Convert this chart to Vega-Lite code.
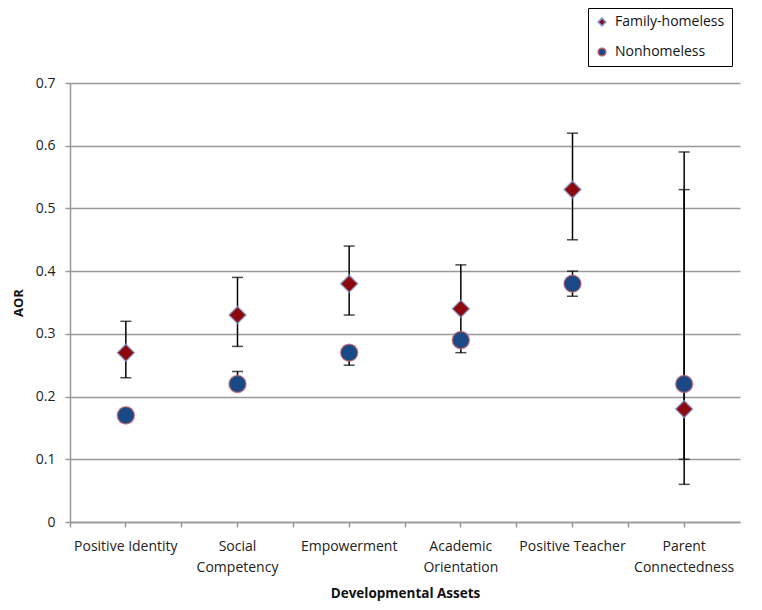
{
  "$schema": "https://vega.github.io/schema/vega-lite/v6.json",
  "width": 670,
  "height": 439,
  "autosize": {"type": "none"},
  "padding": {"left": 70, "top": 83, "right": 22, "bottom": 88},
  "background": "white",
  "config": {
    "font": "Open Sans",
    "view": {"stroke": null},
    "axis": {"labelFont": "Open Sans", "titleFont": "Open Sans", "labelColor": "#222", "titleColor": "#111"}
  },
  "data": {
    "values": [
      {"asset": "Positive Identity", "group": "Family-homeless", "aor": 0.27, "lo": 0.23, "hi": 0.32},
      {"asset": "Positive Identity", "group": "Nonhomeless", "aor": 0.17, "lo": 0.16, "hi": 0.18},
      {"asset": "Social Competency", "group": "Family-homeless", "aor": 0.33, "lo": 0.28, "hi": 0.39},
      {"asset": "Social Competency", "group": "Nonhomeless", "aor": 0.22, "lo": 0.21, "hi": 0.24},
      {"asset": "Empowerment", "group": "Family-homeless", "aor": 0.38, "lo": 0.33, "hi": 0.44},
      {"asset": "Empowerment", "group": "Nonhomeless", "aor": 0.27, "lo": 0.25, "hi": 0.28},
      {"asset": "Academic Orientation", "group": "Family-homeless", "aor": 0.34, "lo": 0.29, "hi": 0.41},
      {"asset": "Academic Orientation", "group": "Nonhomeless", "aor": 0.29, "lo": 0.27, "hi": 0.3},
      {"asset": "Positive Teacher", "group": "Family-homeless", "aor": 0.53, "lo": 0.45, "hi": 0.62},
      {"asset": "Positive Teacher", "group": "Nonhomeless", "aor": 0.38, "lo": 0.36, "hi": 0.4},
      {"asset": "Parent Connectedness", "group": "Family-homeless", "aor": 0.18, "lo": 0.06, "hi": 0.59},
      {"asset": "Parent Connectedness", "group": "Nonhomeless", "aor": 0.22, "lo": 0.1, "hi": 0.53}
    ]
  },
  "resolve": {"axis": {"x": "independent"}},
  "layer": [
    {
      "mark": {"type": "rule", "color": "black", "strokeWidth": 1.5},
      "encoding": {
        "x": {
          "field": "asset",
          "type": "nominal",
          "sort": null,
          "scale": {"paddingInner": 0, "paddingOuter": 0},
          "axis": {
            "orient": "bottom",
            "title": "Developmental Assets",
            "titleFontSize": 13.5,
            "titleFontWeight": "bold",
            "titlePadding": 12,
            "labelAngle": 0,
            "labelFontSize": 14,
            "labelPadding": 12,
            "labelLineHeight": 21,
            "labelExpr": "indexof(['Social Competency','Academic Orientation','Parent Connectedness'], datum.value) >= 0 ? split(datum.value, ' ') : datum.value",
            "domainColor": "#999",
            "domainWidth": 1.5,
            "tickColor": "#999",
            "tickWidth": 1.5,
            "tickSize": 5,
            "grid": false
          }
        },
        "y": {
          "field": "lo",
          "type": "quantitative",
          "scale": {"domain": [0, 0.7], "nice": false},
          "axis": {
            "title": "AOR",
            "titleFontSize": 13,
            "titleFontWeight": "bold",
            "titlePadding": 10,
            "values": [0, 0.1, 0.2, 0.3, 0.4, 0.5, 0.6, 0.7],
            "format": "~g",
            "labelFontSize": 14,
            "labelPadding": 10,
            "tickSize": 5,
            "tickColor": "#999",
            "tickWidth": 1.5,
            "domainColor": "#999",
            "domainWidth": 1.5,
            "grid": true,
            "gridColor": "#999",
            "gridWidth": 1.5
          }
        },
        "y2": {"field": "hi"}
      }
    },
    {
      "mark": {"type": "tick", "color": "black", "thickness": 1.5, "size": 11, "orient": "horizontal"},
      "encoding": {
        "x": {
          "field": "asset",
          "type": "nominal",
          "sort": null,
          "axis": {
            "orient": "bottom",
            "title": null,
            "labels": false,
            "domain": false,
            "grid": false,
            "bandPosition": 0,
            "tickColor": "#999",
            "tickWidth": 1.5,
            "tickSize": 5
          }
        },
        "y": {"field": "lo", "type": "quantitative"}
      }
    },
    {
      "mark": {"type": "tick", "color": "black", "thickness": 1.5, "size": 11, "orient": "horizontal"},
      "encoding": {
        "x": {"field": "asset", "type": "nominal", "sort": null, "axis": null},
        "y": {"field": "hi", "type": "quantitative"}
      }
    },
    {
      "mark": {"type": "point", "filled": true, "opacity": 1, "strokeWidth": 1.5, "strokeOpacity": 0.7, "size": 290},
      "encoding": {
        "x": {"field": "asset", "type": "nominal", "sort": null, "axis": null},
        "y": {"field": "aor", "type": "quantitative"},
        "shape": {
          "field": "group",
          "type": "nominal",
          "scale": {"domain": ["Family-homeless", "Nonhomeless"], "range": ["diamond", "circle"]},
          "legend": {
            "title": null,
            "orient": "none",
            "legendX": 518,
            "legendY": -75,
            "labelFontSize": 14,
            "labelColor": "#111",
            "labelOffset": 6,
            "symbolSize": 60,
            "rowPadding": 16,
            "padding": 7,
            "strokeColor": "black",
            "fillColor": "white"
          }
        },
        "fill": {
          "field": "group",
          "type": "nominal",
          "scale": {"domain": ["Family-homeless", "Nonhomeless"], "range": ["#8c0a0e", "#1a4a86"]}
        },
        "stroke": {
          "field": "group",
          "type": "nominal",
          "scale": {"domain": ["Family-homeless", "Nonhomeless"], "range": ["#7f9bd6", "#c8606a"]}
        }
      }
    }
  ]
}
